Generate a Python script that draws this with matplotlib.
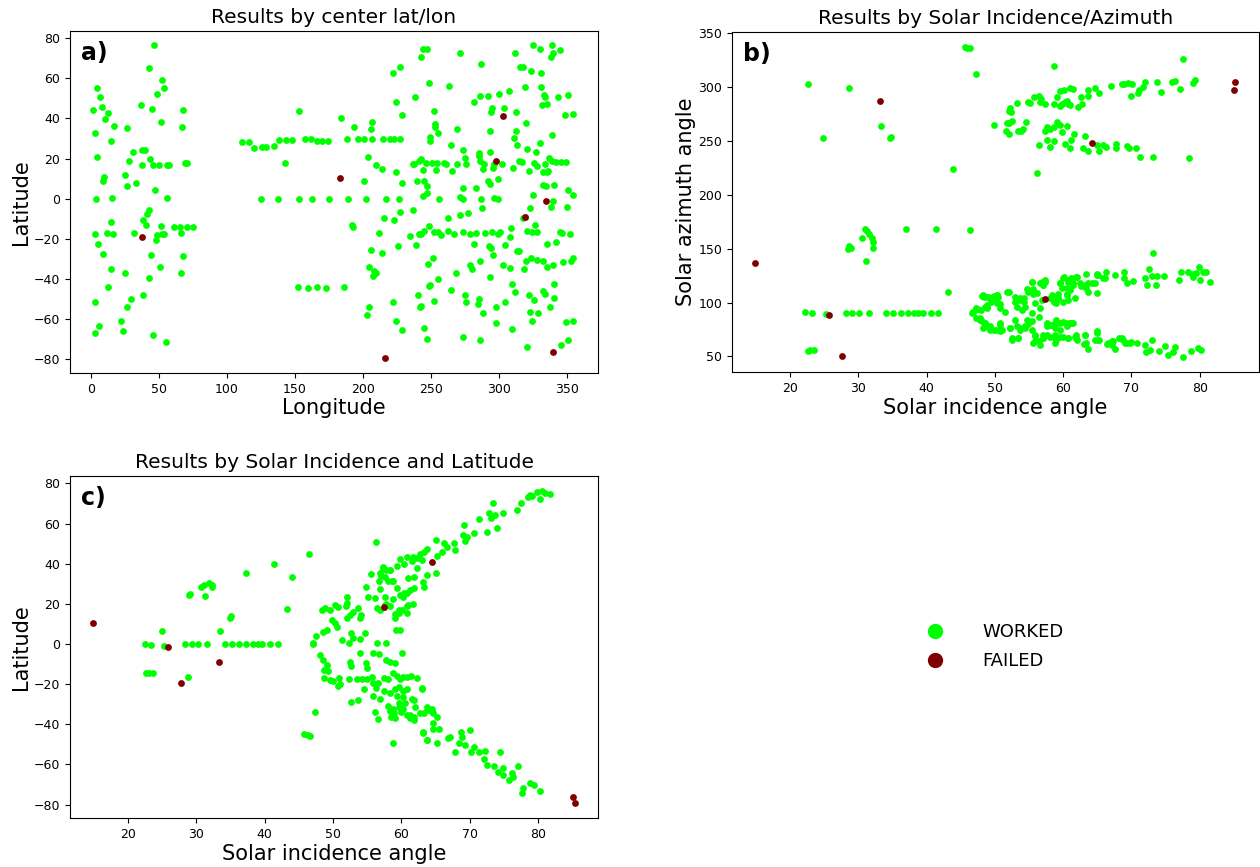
import matplotlib
matplotlib.use("Agg")
from matplotlib import pyplot as plt
from matplotlib.lines import Line2D

# panel a) center longitude / latitude
a_worked = [
    (46.3, 76.4), (42.6, 64.9), (52.4, 59.4), (53.4, 55.2), (48.3, 52.2), (4.4, 55.2), (6.4, 50.6),
    (8.3, 45.9), (1.5, 44.1), (12.7, 42.7), (10.3, 39.9), (36.8, 46.6), (45.1, 44.6), (51.2, 38.2),
    (67.9, 44.4), (66.9, 35.7), (16.7, 36.4), (26.2, 35.2), (2.5, 32.9), (14.5, 28.7), (31.1, 23.2),
    (37.4, 24.2), (39.3, 24.2), (4.2, 20.6), (28.2, 18.9), (43.4, 19.6), (37.5, 16.9), (45.9, 16.9),
    (50, 16.9), (55.6, 16.9), (57.6, 16.9), (69.1, 17.6), (70.8, 17.6), (9.6, 10.9), (8.6, 8.9),
    (24.8, 11.7), (26.7, 6.6), (33.1, 7.7), (46.8, 4.4), (3.4, -0.3), (15.2, 0.2), (56.1, 0.6),
    (42.4, -5.6), (41.4, -7.6), (38.2, -10.4), (40.2, -13.1), (14.5, -11.8), (51.7, -13.4),
    (60.8, -14.1), (65.4, -14.1), (70.6, -14.1), (74.8, -14.1), (12, -17.1), (16.4, -17.6),
    (31.6, -17.3), (2.7, -17.8), (65.9, -16.9), (53.7, -17.6), (52.5, -17.6), (48.8, -18.1),
    (47.5, -20.6), (4.7, -22.6), (8.6, -27.6), (44.3, -27.8), (67.6, -28.4), (50.5, -34.1),
    (14.9, -34.9), (24.8, -37.1), (66.4, -37.1), (42.9, -39.4), (12.5, -43.8), (38.5, -47.9),
    (2.5, -51.4), (29.4, -49.8), (26.2, -53.9), (22.1, -61.1), (23.8, -65.8), (5.9, -63.6),
    (3.2, -66.8), (45.6, -67.9), (55.1, -71.6),
    (111.3, 28.4), (116, 28.4), (120.1, 25.4), (125.5, 25.9), (128.9, 25.9), (134.3, 26.4),
    (138.5, 29.4), (143.4, 29.4), (147.6, 29.4), (142.9, 17.6), (153.2, 43.9), (157.4, 29.9),
    (161.5, 29.9), (166.2, 28.9), (169.9, 28.9), (174, 28.9), (183.8, 40.1), (192.1, -13.1),
    (151.9, -44), (159.8, -44.4), (166.5, -44), (172.5, -44.4), (186.3, -43.8),
    (243.9, 74.4), (247.1, 74.6), (242.9, 70.4), (222.3, 62.6), (227, 65.7), (248.5, 57.9),
    (238.7, 50.6), (224.7, 48.1), (228.9, 41.9), (252, 43.9), (252.7, 37.4), (252.7, 35.9),
    (249.5, 30.8), (249.5, 29), (254.9, 32.6), (193.6, 35.9), (206.4, 38.2), (205.6, 34.6),
    (188, 29.9), (196.3, 29.9), (200.7, 29.9), (206.4, 29.9), (214.7, 29.9), (219.9, 29.9),
    (223, 29.9), (227.5, 29.9), (203.4, 20.8), (210, 16.9), (214.2, 14.8), (224, 13.4),
    (236.5, 17.2), (237.7, 17.2), (242.6, 19.9), (241.4, 18.6), (246.5, 17.6), (250.5, 17.6),
    (254.2, 17.6), (244.3, 14.2), (253.7, 14.4), (200.5, 8.7), (228.5, 7.7), (239.9, 9),
    (245.1, 9), (247, 6.6), (247.5, 3.1), (244.1, 1.6),
    (124.8, 0), (137.7, 0), (152.9, 0), (162.5, 0), (174.8, 0), (188.7, 0), (202.5, 0),
    (216.7, 0), (226.5, 0), (256.1, 0),
    (236.5, -5.4), (215.4, -9.8), (223, -10.4), (227.5, -6.8), (192.4, -14.1), (211.8, -16.9),
    (234.6, -18.4), (241.2, -17.7), (242.9, -17.5), (245.3, -16.2), (248.8, -13.7), (252, -16.6),
    (255.6, -16.6), (225.5, -23.6), (239, -23.1), (205.6, -25.6), (214.2, -27.1), (251.5, -29.3),
    (247.8, -32.4), (204.7, -34.2), (207.8, -35.9), (210, -37.2), (207.1, -38.4), (254.9, -39.8),
    (249.5, -42.8), (248.8, -43.6), (240.2, -47.8), (241.9, -53.9), (243.1, -53.3), (252.4, -51),
    (222.3, -51.6), (204.4, -53.8), (202.7, -58.1), (224.7, -60.8), (228.9, -65.3), (245.3, -64.3),
    (246.8, -70),
    (271.1, 72.6), (286.8, 67.1), (312, 72.7), (325.5, 76.4), (330.4, 74.6), (339, 76.4),
    (345.1, 74.2), (340.2, 72.4), (338.2, 70.7), (315.4, 65.4), (317.9, 65.4), (323.5, 63.7),
    (330.9, 62.7), (263.5, 56.1), (281.4, 48.2), (286, 51.4), (292.4, 51.1), (300.2, 52.2),
    (307.6, 53.9), (319.3, 55.7), (331.4, 55.7), (333.3, 51.9), (334.3, 50.6), (335.5, 47.1),
    (332.1, 46.9), (343.9, 50.7), (351.2, 51.6), (348.8, 41.7), (354.4, 42.2), (294.9, 45.4),
    (294.6, 43.2), (303.9, 45.2), (312.5, 43.2), (319.9, 37.9), (293.4, 33.9), (268.9, 35),
    (313, 33.6), (311, 30.2), (313.2, 26.8), (339.2, 31.7), (330.1, 27.7), (327.7, 23.1),
    (321.1, 24.7), (264.5, 26.6), (274, 24.2), (275.2, 20.4), (276.2, 17.4), (285.1, 22.8),
    (285.5, 21.3), (293.6, 23.3),
    (259.8, 17.6), (261.5, 17.2), (269.1, 17.2), (265.7, 13.6), (286, 18.6), (289, 17.2),
    (288.2, 14.9), (296.3, 17.2), (295.6, 15.2), (302, 17.5), (310.5, 15.3), (314.9, 18.6),
    (317.4, 18.4), (322.3, 13.6), (325.7, 17.6), (328.2, 16.3), (332.4, 13.4), (334, 17.2),
    (336.5, 13.6), (337.3, 20.2), (339.5, 18.9), (342.4, 18.4), (346.1, 18.2), (349.8, 18.2),
    (335.5, 13.4), (332.6, 6.9), (335.1, 6.2), (340.4, 6.9), (292.1, 8.6), (293.2, 7.4),
    (299.3, 9.6), (282.9, 5.6), (274, 5.6), (271.8, 0.8), (273.5, -0.2), (286.8, 0.1),
    (296.6, 0.4), (299.5, 0), (325.2, 1.9), (351.2, 4.4), (354.6, 1.7), (350, -3.9),
    (339.7, -0.9), (338.5, -4.2), (323.3, -4.4), (319.6, -8.9), (326.7, -13.1), (317.5, -9.8),
    (262.7, -9.8), (271.1, -8.1), (277.7, -6.9), (287.3, -4.7),
    (257.6, -18.1), (262.7, -16.1), (266.9, -17.6), (273.3, -16.8), (278.5, -17.8), (282.9, -16.9),
    (290.2, -17.1), (295.1, -16.6), (299.5, -17.4), (301.2, -16.8), (309.3, -14.4), (308.6, -18.9),
    (320.8, -16.1), (324.8, -16.8), (328.2, -16.8), (344.9, -16.8), (346.8, -16.9), (352.2, -17.4),
    (281.4, -22.6), (292.6, -23.4), (294.6, -24.6), (295.8, -27.8), (304.7, -23.1), (335.8, -22.3),
    (342.1, -21.4), (313.5, -25.8), (315.2, -26), (323.8, -29.3), (319.9, -30.8), (328.2, -30.6),
    (332.6, -30.8), (335.3, -34.1), (339.9, -32.8), (347.3, -31.3), (353.2, -30.8), (354.9, -29.3),
    (318.6, -35), (308.1, -34.3), (303.2, -32.8), (286, -31.1), (280.6, -35.1), (278.7, -33.1),
    (268.4, -36.8), (293.6, -39.1), (264.7, -45.4),
    (309.6, -42.6), (311.8, -46.4), (322.3, -48.1), (326.2, -50.6), (332.6, -46.1), (334.3, -47.4),
    (340.4, -42.6), (340.7, -49.4), (338, -53.9), (322.8, -56.4), (328.9, -57.1), (324.3, -60.9),
    (349.3, -61.2), (354.9, -60.9), (274.8, -48.1), (275.5, -51.4), (285.1, -49.8), (284.8, -52.6),
    (288.2, -56.7), (297.8, -53.7), (304.7, -51.6), (298.3, -61.8), (309.8, -64.9), (273.3, -68.8),
    (286.5, -70.4), (321.1, -73.9), (346.1, -73.1), (351.2, -70.6),
]
a_failed = [(37.2, -19.3), (183.1, 10.5), (216.2, -79.4), (302.9, 41.1), (297.8, 18.7),
            (334.6, -1.3), (319.4, -8.9), (339.7, -76.1)]

# panel b) solar incidence / azimuth
b_worked = [
    (22.2, 91.4), (23.2, 90.2), (25.2, 89), (28.2, 90.2), (29.1, 90.2), (30.1, 90.2), (31.5, 90.2),
    (34.1, 90.2), (35.1, 90.2), (36.2, 90.2), (37.2, 90.2), (38.1, 90.2), (38.8, 90.2), (39.4, 90.2),
    (40.6, 90.2), (41.7, 90.2), (43.2, 109.6), (22.6, 55.3), (22.9, 55.6), (23.5, 56.2),
    (31.1, 138.9), (28.5, 149.4), (28.9, 151), (28.7, 152.5), (30.6, 160.2), (31, 168),
    (31.3, 166.7), (31.5, 163.7), (32, 159.4), (32.1, 156), (32.2, 151), (37, 167.8), (41.3, 167.8),
    (46.3, 166.9), (43.9, 223.8), (24.8, 252.8), (33.3, 263.3), (34.8, 253.4), (34.7, 252.2),
    (22.6, 302.5), (28.6, 299.1), (45.6, 337), (45.9, 335.5), (46.4, 336), (47.2, 311.5),
    (49.9, 265), (58.7, 319.2),
    (52.2, 280), (52.3, 276.3), (52.1, 277.5), (51.7, 266.1), (52.1, 266.1), (52.5, 268.5),
    (51.6, 259.3), (52, 255.9), (53.4, 259), (54.1, 260.8), (53.8, 259.3), (54.5, 267.6),
    (53.3, 285.2), (54.8, 285.6), (55.2, 285.2), (55.7, 290.7), (56.4, 291.4), (56.7, 288.3),
    (56.6, 285.6), (57.3, 283.7), (58.7, 284.3), (59.1, 290.7), (59.5, 296), (60.1, 296.9),
    (61, 298.5), (61.4, 298.1), (59.5, 281.9), (59.9, 284.3), (60.2, 285.6), (60.7, 284.3),
    (61, 282.8), (60.5, 287), (62.2, 281.2), (62.8, 283.7), (62.6, 290.2), (63.6, 297.2),
    (63.7, 291.4), (64.6, 298.5), (65.3, 293.9), (67, 300.9), (68.6, 302.2), (68.9, 302.5),
    (69.5, 303.1), (70.1, 302.2), (69.9, 291.7), (70.9, 293.9), (71.1, 296.9), (71.7, 299.4),
    (72, 304.1), (73.7, 304.6), (74.4, 295.4), (75.9, 304.6), (76.4, 305.3), (77.1, 297.6),
    (79, 303.6), (79.3, 305.9), (77.5, 325.9),
    (57.4, 259), (57.7, 263), (58.1, 260.6), (58.7, 263), (59.1, 267.6), (59.5, 264.5),
    (59.9, 258.3), (60.5, 263.6), (61.6, 256.2), (63.2, 254.1), (56.5, 246), (57.6, 250.6),
    (58.1, 243.9), (58.6, 249.4), (60.3, 246.9), (61, 243.5), (61.2, 250.6), (62.9, 243.5),
    (63.7, 240.5), (64.9, 246), (65.3, 240.5), (65.9, 246), (66.2, 244.4), (67.7, 246.9),
    (67.8, 243.5), (69.4, 245.1), (69.6, 243.5), (70.6, 243), (71.2, 234.6), (73.1, 234.6),
    (78.5, 234.3), (56.1, 219.8),
    (64.9, 126.3), (66.3, 128.1), (67.6, 125.6), (68.9, 128.7), (68.9, 122.5), (69.3, 117.9),
    (66.1, 122.5), (70.3, 120.1), (72, 123.2), (63.6, 118.5), (64.6, 117.9), (65.1, 125.6),
    (63.4, 126.3), (63.3, 113.3), (62.6, 115.7), (61.9, 123.5), (61.5, 118.5),
    (59.5, 118.5), (60.1, 123.8), (60.8, 121), (60.6, 113.3), (59.9, 113.3), (60.5, 108.3),
    (59.3, 107.8), (58.7, 100.4), (59.2, 104.6), (58.1, 104.1), (57.1, 116.4), (56.9, 119.4),
    (57.3, 120.7), (55.5, 119.1), (54.7, 112.4), (55.6, 107.8), (54.2, 104.1), (53.6, 102.2),
    (52.9, 100.9), (51.7, 110.2), (50.3, 107.1), (49.6, 103.4), (50.7, 98.6), (48.9, 96.3),
    (46.8, 91.2), (47.4, 93.9), (48.1, 106.5), (48.4, 105.6), (49.4, 104.1), (50.3, 104.1),
    (73.2, 146.3), (72.6, 130.9), (73, 124.7), (73.7, 124.7), (74.7, 124.4), (72.3, 116.7),
    (73.6, 116.1), (76.9, 121.3), (77.3, 128.1), (78.3, 128.1), (78.8, 126.6), (79, 124.1),
    (79.9, 132.8), (79.5, 127.8), (80.5, 128.1), (80.9, 128.1), (80, 120.7), (81.5, 119.2),
    (47.3, 86.1), (47.9, 84), (48.6, 81.5), (48.7, 77.8), (49.3, 75.6), (50.1, 74.7), (50.8, 73.8),
    (50.8, 79.4), (52.2, 76.3), (52.5, 67), (53.4, 67.6), (53.7, 76.3), (54.4, 76.3), (54.9, 80),
    (55.4, 83), (55.9, 69.4), (56.6, 60.2), (55.9, 63.9), (57.1, 67), (57.6, 77.8), (58.1, 79.4),
    (58.6, 80), (59.1, 80.9), (59.5, 80.9), (60.5, 80.9), (61.2, 81.5), (57.6, 70.1), (58.6, 68.5),
    (58.8, 62.4), (60, 68.5), (60.7, 67.6), (61.9, 70.1), (61.9, 67), (63.2, 70.1), (63, 61.5),
    (63.7, 57.1), (64.9, 71.7), (65.1, 65.5), (66.4, 61.5), (67.1, 63.9), (67.6, 57.1), (68.6, 67),
    (69, 62.4), (69.8, 62.4),
    (70, 63), (70.8, 62.4), (72, 60.8), (73, 65.5), (72.2, 54.6), (72.7, 56.2), (74.1, 55.3),
    (74.9, 59.3), (75.3, 51), (76.1, 54.6), (76.4, 58.6), (77.6, 49.4), (78.7, 55.3), (79.8, 57.7),
    (80.2, 55.9),
    (48.2, 106.5), (48.8, 105.6), (49.6, 104.1), (50.3, 107.1), (48.5, 96.3), (48.8, 95.4),
    (47.8, 85.6), (48.3, 82.4), (48.7, 77.8), (49.3, 74.7), (46.7, 90.2), (47.4, 94.2),
    (48.3, 107.1), (49.1, 105.6), (49.8, 106.2), (50.5, 105.6), (49.5, 100.9), (50.3, 99.4),
    (48.8, 97.9), (48, 93.2), (46.8, 91.1), (47.3, 94.9), (50.8, 94.9), (51.5, 91.7), (52, 110.2),
    (53, 105.6), (53.7, 104.1), (54.2, 100.9), (53.2, 96.3), (53.9, 93.2), (54.4, 96.3),
    (55.4, 119.4), (56.6, 118), (57.1, 116.4), (57.3, 119.4), (55.6, 112.4), (54.9, 110.2),
    (56.1, 108.7), (56.9, 102.5), (55.9, 99.4), (56.6, 94.9), (55.4, 90.2), (56.4, 87),
    (58.3, 107.1), (58.5, 102.5), (59.3, 104.1), (59.5, 118), (60, 122.6), (60.7, 119.4),
    (61.2, 122.6), (62, 124.1), (61.5, 116.4), (61, 111.8), (60.5, 107.1), (60, 100.9),
    (59, 99.4), (60.7, 102.5), (61.7, 104.1), (62.4, 118), (63.2, 116.4), (63.7, 110.2),
    (64.2, 118), (64.9, 125.6), (64.9, 108.7), (65.9, 122.6),
    (47.8, 84), (48.6, 80.9), (48.3, 76.3), (49.3, 77.8), (49.8, 74.7), (50.8, 80.9), (51, 74.7),
    (52.2, 76.3), (53, 84), (53.2, 77.8), (53.7, 74.7), (54.4, 77.8), (54.7, 84), (55.4, 74.7),
    (55.9, 70.1), (56.4, 63.9), (57.1, 70.1), (57.6, 80.9), (58.1, 79.4), (58.8, 76.3),
    (58.8, 70.1), (59.5, 74.7), (60, 82.4), (60.5, 77.8), (61, 80.9), (61.5, 80.9), (59, 84),
    (52.5, 65.5), (53.4, 67), (55.6, 62.4), (57.1, 67), (58.1, 68.5), (59, 65.5), (59.5, 68.5),
    (60.7, 67), (61.7, 68.5), (62, 65.5), (63.2, 70.1), (63.4, 62.4), (64.6, 65.5), (64.9, 73.2),
    (65.2, 65.5), (66.6, 62.4), (67.1, 60.8), (67.3, 63.9), (68.2, 67), (68.8, 65.5), (69.3, 62.4),
]
b_failed = [(25.7, 88), (27.6, 50.3), (14.8, 137), (33.1, 286.8), (64.2, 248.1),
            (57.3, 103.1), (85.2, 304.4), (85, 296.7)]

# panel c) solar incidence / latitude
c_worked = [
    (22.4, -0.2), (23.4, -0.6), (24.9, 6.3), (25.3, -1.1), (28.3, -0.2), (29.3, -0.2), (30.3, -0.2),
    (31.6, -0.2), (22.6, -14.4), (23.1, -14.4), (23.6, -14.4), (28.7, -16.5), (28.9, 24.5),
    (29.1, 25), (30.6, 28.3), (31.1, 29.4), (31.8, 30.3), (32.3, 29.6), (32.3, 28.4), (31.2, 23.9),
    (33.5, 6.3), (34.9, 13.1), (35.1, 13.8), (34.2, -0.2), (35.2, -0.2), (36.3, -0.2), (37.3, -0.2),
    (38.3, -0.2), (39, -0.2), (39.6, -0.2), (40.8, -0.2), (41.9, -0.2), (37.2, 35.5), (41.4, 39.7),
    (44, 33.2), (43.3, 17.3), (46.5, 44.7), (47, 0), (45.8, -44.9), (46.4, -45.5), (46.7, -45.7),
    (47.4, -34), (56.3, 50.8), (58.8, -49.5),
    (63.8, 47.3), (63.3, 46), (62.7, 44.8), (62.3, 42.8), (61.7, 43.4), (61.5, 41.5), (60.8, 43.4),
    (59.8, 42.5), (60.4, 39.7), (59.4, 38.9), (58.4, 36.7), (57.8, 36.7), (57.3, 37.7), (57, 33.9),
    (56.7, 31.4), (55.5, 34.7), (54.9, 28.4), (58.1, 31.4), (58.8, 31.2), (59.4, 28), (60.4, 25.2),
    (59.8, 24.4), (61.3, 26.9), (61.8, 27.7), (61.7, 19.7), (60.8, 18.9), (60.1, 16.9), (59.6, 15.6),
    (59.1, 14.9), (57.8, 19.9), (57.4, 18.6), (56.9, 16.9), (58.4, 18.9), (56.2, 22.7), (56.4, 18.1),
    (55.1, 23.6), (54.1, 14.5), (53.9, 12.8), (53.6, 17.8), (53, 16.1), (52.5, 14.5), (52, 23.6),
    (52.1, 20.6), (51.9, 18.9), (50.8, 18.6), (50.3, 19.2), (49.6, 16.9), (48.9, 17.8), (48.4, 16.9),
    (49.8, 11.9), (50.3, 10.3), (50.6, 8.6), (49.1, 7), (48.5, 5.8), (47.5, 4), (47, 0.3),
    (52, 12.8), (54.7, 5.3), (52.7, 5.6), (53, 2.8), (52.3, 0.3), (51.3, 2), (54, 2.3),
    (63.2, 31.1), (63.8, 34.4), (63.3, 28.6), (62.3, 37.7), (61.9, 33.5), (61, 32.7), (63, 41.9),
    (59.2, 7), (59.8, 7), (59.1, 12.8), (59.7, 16.9), (58.8, 22.3), (57.6, 19.4), (57.6, 23.6),
    (56.9, 27.6), (58.7, 31.6), (58.3, 36.9), (57.6, 33.5), (57.3, 38.5), (56.9, 35.2), (61, 19.4),
    (60.8, 15.3), (60.3, 23.6), (60.8, 25.6),
    (48.1, -5.5), (48.5, -8), (49.1, -10.5), (49.3, -13.3), (48.7, -13), (48.7, -17.1), (49.6, -17.9),
    (50, -18.3), (50.9, -17.1), (51, -19.9), (52.4, -17.6), (53.5, -17.6), (54.2, -17.6), (55, -17.6),
    (55.7, -16.3), (54.5, -22.6), (52.5, -8.8), (52.7, -11), (54, -4.7), (54.9, -9.3), (55, -12.1),
    (55.9, -4.3), (56.7, -5), (57.8, -8), (58.4, -8.8), (59.1, -9.6), (60.1, -4.3), (56.4, 0.3),
    (57.8, 0.3), (55.9, -19.3), (56.6, -19.6), (57.5, -17.1), (58.1, -17.6), (58.8, -14.6),
    (59.3, -15.9), (59.8, -17.3), (60.3, -16.3), (60.8, -16.3), (61.4, -15.9), (62.3, -16.9),
    (59.1, -22.6), (59.7, -21.3), (60.2, -23.3), (60.8, -22.6), (61.5, -27.6), (60.3, -26.3),
    (59.4, -25.9), (58.4, -24.3), (57.5, -23.3), (56.9, -27.6), (55.9, -25.9), (56.3, -22.1),
    (56.1, -34), (56.6, -37.4), (58.1, -30.9), (58.4, -33.2), (59, -34.5), (59.1, -37),
    (59.6, -31.2), (60, -33.7), (60.3, -32.5), (60.8, -35.4), (61.3, -37), (61.8, -37.9),
    (62, -31.2), (63, -22.6), (63.3, -34.5), (63.7, -32.9), (64.3, -33.2), (64.7, -34.5),
    (64.7, -42.6), (63.2, -44.2), (63.7, -47.9), (53.6, -27.9), (52.6, -28.8), (50.8, -20.8),
    (63.7, -31.3), (64.5, -32.6), (61.8, -36.2), (62.7, -34.5), (61.3, -35.4), (60.6, -29.6),
    (59.7, -29.6), (58.8, -32.6), (58.5, -36.2), (61.8, -27.9), (63, -22.1), (63.2, -43.7),
    (63.8, -47.9), (64.7, -39.5),
    (65.2, 43.9), (65.9, 46), (66.7, 48.2), (66.2, 50.2), (65.1, 51.8), (67.9, 46.9), (67.7, 50.5),
    (69.3, 51.5), (69, 54.3), (69.6, 53.5), (69.2, 59.2), (70.7, 55.5), (71.4, 62.2), (72.5, 55.7),
    (72.8, 65.2), (73.2, 62.7), (73.7, 64.3), (73.4, 70.1), (74, 57.7), (74.9, 65.2), (77, 66.8),
    (77.5, 70.4), (78.5, 73.1), (79.1, 73.8), (79.9, 75.9), (80.6, 76.4), (81.1, 75.1), (81.7, 74.6),
    (80.3, 72.1), (78.8, 74.3), (65.1, 35.2),
    (65.2, -36.2), (65.5, -42.5), (65.2, -49.5), (66.8, -47), (67.1, -46.2), (67.9, -53.7),
    (68.5, -49.5), (68.9, -46.2), (68.7, -43.7), (70.1, -42.9), (69.3, -50.3), (70.2, -53.7),
    (70.7, -51.5), (71.4, -53.7), (72.1, -57.1), (72.5, -60.3), (72.2, -53.2), (73.5, -60.8),
    (74.5, -53.7), (74.9, -62), (74.2, -63.7), (74.9, -65.3), (76.2, -64.5), (76.4, -66.2),
    (75.7, -67.8), (77.1, -60.8), (77.8, -71.9), (77.6, -74.1), (78.9, -69.2), (79.4, -70.3),
    (80.3, -73.1),
]
c_failed = [(14.9, 10.3), (25.8, -1.3), (27.8, -19.3), (33.3, -9.2), (64.5, 40.9),
            (57.5, 18.6), (85.1, -76.1), (85.4, -79.4)]

ok_color = "#00ff00"
bad_color = "#800000"

fig = plt.figure(figsize=(12.6, 8.67), dpi=100)
ax_a = fig.add_axes([0.0556, 0.5698, 0.419, 0.3945])
ax_b = fig.add_axes([0.5810, 0.5709, 0.4183, 0.392])
ax_c = fig.add_axes([0.0556, 0.0565, 0.419, 0.3945])

panels = [
    (ax_a, a_worked, a_failed, "Results by center lat/lon", "Longitude", "Latitude", "a)"),
    (ax_b, b_worked, b_failed, "Results by Solar Incidence/Azimuth", "Solar incidence angle",
     "Solar azimuth angle", "b)"),
    (ax_c, c_worked, c_failed, "Results by Solar Incidence and Latitude", "Solar incidence angle",
     "Latitude", "c)"),
]
for ax, worked, failed, title, xlabel, ylabel, letter in panels:
    ax.scatter([p[0] for p in worked], [p[1] for p in worked], s=24, c=ok_color,
               linewidths=0, zorder=2)
    ax.scatter([p[0] for p in failed], [p[1] for p in failed], s=24, c=bad_color,
               linewidths=0, zorder=3)
    ax.set_title(title, fontsize=14.5)
    ax.set_xlabel(xlabel, fontsize=15, labelpad=2)
    ax.set_ylabel(ylabel, fontsize=15, labelpad=2)
    ax.tick_params(labelsize=9)
    ax.text(0.02, 0.97, letter, transform=ax.transAxes, fontsize=17, fontweight="bold",
            va="top", ha="left")

ax_a.set_xlim(-15.5, 373)
ax_a.set_ylim(-86.8, 83.6)
ax_a.set_xticks(range(0, 351, 50))
ax_a.set_yticks(range(-80, 81, 20))

ax_b.set_xlim(11.5, 88.7)
ax_b.set_ylim(35.6, 350.6)
ax_b.set_xticks(range(20, 81, 10))
ax_b.set_yticks(range(50, 351, 50))

ax_c.set_xlim(11.5, 88.8)
ax_c.set_ylim(-86.7, 83.7)
ax_c.set_xticks(range(20, 81, 10))
ax_c.set_yticks(range(-80, 81, 20))

handles = [
    Line2D([], [], marker="o", linestyle="", color=ok_color, markersize=10, label="WORKED"),
    Line2D([], [], marker="o", linestyle="", color=bad_color, markersize=10, label="FAILED"),
]
fig.legend(handles=handles, loc="center", bbox_to_anchor=(0.786, 0.254), frameon=False,
           fontsize=13, handletextpad=1.6, labelspacing=0.6)

fig.savefig("out.png", dpi=100)
